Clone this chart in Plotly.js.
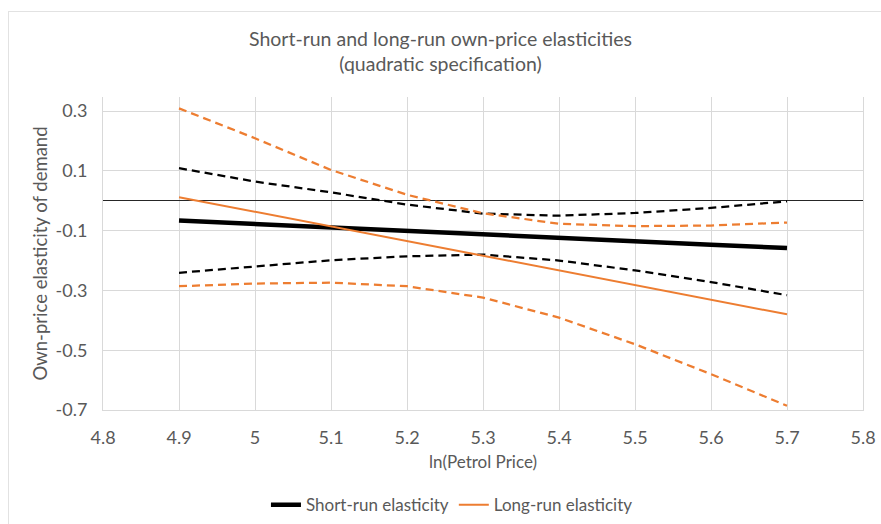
<!DOCTYPE html>
<html>
<head>
<meta charset="utf-8">
<script src="https://cdn.plot.ly/plotly-3.0.1.min.js"></script>
<style>
  html, body { margin: 0; padding: 0; background: #ffffff; }
  #frame { position: absolute; left: 8px; top: 11px; width: 900px; height: 540px;
           border-top: 1px solid #e2e2e2; border-left: 1px solid #e2e2e2; }
  #chart { position: absolute; left: 0; top: 0; width: 881px; height: 524px; }
</style>
</head>
<body>
<div id="frame"></div>
<div id="chart"></div>
<script>
// ln(Petrol Price)
const lnPrice = [4.9, 5.0, 5.1, 5.2, 5.3, 5.4, 5.5, 5.6, 5.7];

// Short-run elasticity and its confidence bounds
const shortRun      = [-0.066, -0.078, -0.089, -0.101, -0.112, -0.124, -0.135, -0.147, -0.158];
const shortRunUpper = [ 0.109,  0.064,  0.028, -0.013, -0.043, -0.050, -0.041, -0.024, -0.002];
const shortRunLower = [-0.241, -0.219, -0.199, -0.186, -0.180, -0.200, -0.233, -0.272, -0.316];

// Long-run elasticity and its confidence bounds
const longRun      = [ 0.012, -0.037, -0.086, -0.135, -0.184, -0.233, -0.282, -0.331, -0.380];
const longRunUpper = [ 0.309,  0.209,  0.103,  0.020, -0.042, -0.077, -0.085, -0.083, -0.073];
const longRunLower = [-0.286, -0.277, -0.274, -0.286, -0.324, -0.391, -0.480, -0.580, -0.686];

const xTicks = [4.8, 4.9, 5.0, 5.1, 5.2, 5.3, 5.4, 5.5, 5.6, 5.7, 5.8];
const xTickText = ['4.8', '4.9', '5', '5.1', '5.2', '5.3', '5.4', '5.5', '5.6', '5.7', '5.8'];
const yTicks = [-0.7, -0.5, -0.3, -0.1, 0.1, 0.3];
const yTickText = ['-0.7', '-0.5', '-0.3', '-0.1', '0.1', '0.3'];

const ORANGE = '#ED7D31';
const BLACK = '#000000';
const TXT = '#595959';
const FONT = 'Lato, "Open Sans", sans-serif';

const traces = [
  {x: lnPrice, y: shortRunUpper, mode: 'lines', showlegend: false, hoverinfo: 'skip',
   line: {color: BLACK, width: 2.25, dash: '8px,5px'}},
  {x: lnPrice, y: shortRunLower, mode: 'lines', showlegend: false, hoverinfo: 'skip',
   line: {color: BLACK, width: 2.25, dash: '8px,5px'}},
  {x: lnPrice, y: longRunUpper, mode: 'lines', showlegend: false, hoverinfo: 'skip',
   line: {color: ORANGE, width: 2.25, dash: '8px,5px'}},
  {x: lnPrice, y: longRunLower, mode: 'lines', showlegend: false, hoverinfo: 'skip',
   line: {color: ORANGE, width: 2.25, dash: '8px,5px'}},
  {x: lnPrice, y: shortRun, mode: 'lines', name: 'Short-run elasticity',
   line: {color: BLACK, width: 4.5}},
  {x: lnPrice, y: longRun, mode: 'lines', name: 'Long-run elasticity',
   line: {color: ORANGE, width: 2}}
];

const layout = {
  width: 881, height: 524,
  paper_bgcolor: 'rgba(0,0,0,0)',
  plot_bgcolor: 'rgba(0,0,0,0)',
  margin: {l: 103, r: 18, t: 97, b: 114},
  font: {family: FONT, color: TXT, size: 17},
  title: {
    text: 'Short-run and long-run own-price elasticities<br>(quadratic specification)',
    font: {family: FONT, size: 19.5, color: TXT},
    x: 0.5, xref: 'container', xanchor: 'center',
    y: 0.913, yref: 'container', yanchor: 'middle'
  },
  xaxis: {
    range: [4.8, 5.8],
    tickmode: 'array', tickvals: xTicks, ticktext: xTickText,
    showgrid: true, gridcolor: '#d9d9d9', gridwidth: 1,
    showline: true, linecolor: '#d9d9d9', linewidth: 1,
    zeroline: false, ticks: '', ticklen: 0,
    ticklabelstandoff: 11,
    tickfont: {family: FONT, size: 18, color: TXT},
    title: {text: 'ln(Petrol Price)', font: {family: FONT, size: 17, color: TXT}, standoff: 9}
  },
  yaxis: {
    range: [-0.7, 0.347],
    tickmode: 'array', tickvals: yTicks, ticktext: yTickText,
    showgrid: true, gridcolor: '#d9d9d9', gridwidth: 1,
    showline: true, linecolor: '#d9d9d9', linewidth: 1, mirror: true,
    zeroline: true, zerolinecolor: '#262626', zerolinewidth: 1.25,
    ticks: '', ticklen: 0,
    ticklabelstandoff: 11,
    tickfont: {family: FONT, size: 18, color: TXT},
    title: {text: 'Own-price elasticity of demand', font: {family: FONT, size: 18.5, color: TXT}, standoff: 3}
  },
  showlegend: true,
  legend: {
    orientation: 'h',
    xref: 'container', yref: 'container',
    x: 0.513, xanchor: 'center',
    y: 0.036, yanchor: 'middle',
    font: {family: FONT, size: 17, color: TXT},
    itemwidth: 30,
    tracegroupgap: 0
  }
};

Plotly.newPlot('chart', traces, layout, {displayModeBar: false, staticPlot: true});
</script>
</body>
</html>
